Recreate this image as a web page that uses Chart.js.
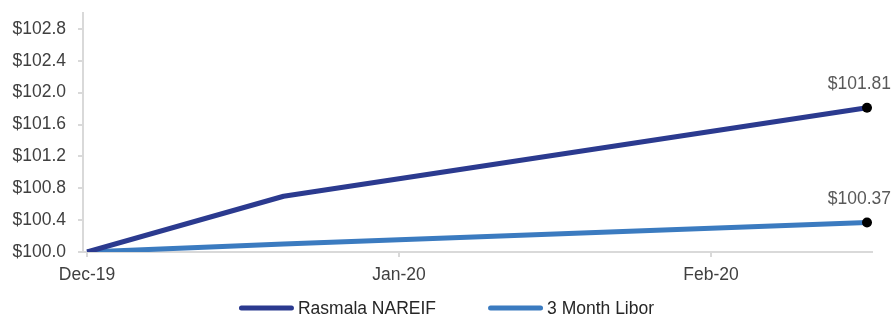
<!DOCTYPE html>
<html>
<head>
<meta charset="utf-8">
<script src="https://cdn.jsdelivr.net/npm/chart.js@4/dist/chart.umd.min.js"></script>
<style>
  html, body { margin: 0; padding: 0; background: #ffffff; }
  #wrap { width: 893px; height: 320px; position: relative; }
</style>
</head>
<body>
<div id="wrap"><canvas id="c"></canvas></div>
<script>
// Month labels on the horizontal axis (positions 0, 1, 2 in months from Dec-19)
const monthLabels = ['Dec-19', 'Jan-20', 'Feb-20'];
// Observation positions, in months after Dec-19
const obsMonths = [0, 0.63, 2.5];
// Growth of $100
const rasmalaNareif = [100.0, 100.70, 101.81];
const libor3m = [100.0, 100.10, 100.37];
const seriesNames = ['Rasmala NAREIF', '3 Month Libor'];
const seriesColors = ['#2b3a8f', '#3b7bc0'];

const FONT = "'Liberation Sans', Arial, sans-serif";
const FS = 17.5;

function toPoints(vals) {
  return vals.map((v, i) => ({ x: obsMonths[i], y: v }));
}

// Dollar label above the last point of each line
const endLabels = {
  id: 'endLabels',
  afterDatasetsDraw(chart) {
    const ctx = chart.ctx;
    ctx.save();
    ctx.font = FS + 'px ' + FONT;
    ctx.fillStyle = '#595959';
    ctx.textBaseline = 'alphabetic';
    ctx.textAlign = 'left';
    chart.data.datasets.forEach((ds, di) => {
      const meta = chart.getDatasetMeta(di);
      const last = meta.data[meta.data.length - 1];
      const val = ds.data[ds.data.length - 1].y;
      const txt = '$' + val.toFixed(2);
      const w = ctx.measureText(txt).width;
      let left = last.x - w / 2;
      if (left + w > chart.width - 2) left = chart.width - 2 - w;
      ctx.fillText(txt, left, last.y - 19);
    });
    ctx.restore();
  }
};

// Line-swatch legend centred under the plot
const lineLegend = {
  id: 'lineLegend',
  afterDraw(chart) {
    const ctx = chart.ctx;
    ctx.save();
    ctx.font = FS + 'px ' + FONT;
    const sw = 55, gapTxt = 4, gapItem = 52;
    const items = chart.data.datasets.map(ds => ({
      text: ds.label, color: ds.borderColor, w: sw + gapTxt + ctx.measureText(ds.label).width
    }));
    const total = items.reduce((a, it) => a + it.w, 0) + gapItem * (items.length - 1);
    let x = (chart.width - total) / 2;
    const y = 308;
    items.forEach(it => {
      ctx.strokeStyle = it.color;
      ctx.lineWidth = 5;
      ctx.lineCap = 'round';
      ctx.beginPath();
      ctx.moveTo(x + 2.5, y);
      ctx.lineTo(x + sw - 2.5, y);
      ctx.stroke();
      ctx.fillStyle = '#262626';
      ctx.textBaseline = 'middle';
      ctx.textAlign = 'left';
      ctx.fillText(it.text, x + sw + gapTxt, y + 1);
      x += it.w + gapItem;
    });
    ctx.restore();
  }
};

const lastOnly = (c) => (c.dataIndex === obsMonths.length - 1 ? 5 : 0);

new Chart(document.getElementById('c'), {
  type: 'line',
  data: {
    datasets: [
      {
        label: seriesNames[0], data: toPoints(rasmalaNareif),
        borderColor: seriesColors[0], backgroundColor: seriesColors[0],
        borderWidth: 5, tension: 0, borderJoinStyle: 'round',
        pointRadius: lastOnly, pointBackgroundColor: '#000', pointBorderWidth: 0,
        pointHoverRadius: lastOnly
      },
      {
        label: seriesNames[1], data: toPoints(libor3m),
        borderColor: seriesColors[1], backgroundColor: seriesColors[1],
        borderWidth: 5, tension: 0, borderJoinStyle: 'round',
        pointRadius: lastOnly, pointBackgroundColor: '#000', pointBorderWidth: 0,
        pointHoverRadius: lastOnly
      }
    ]
  },
  options: {
    responsive: true,
    maintainAspectRatio: false,
    animation: false,
    layout: { padding: { left: 0, right: 21, top: 13, bottom: 31 } },
    plugins: {
      legend: { display: false },
      tooltip: { enabled: false }
    },
    scales: {
      x: {
        type: 'linear',
        min: -0.013,
        max: 2.516,
        afterBuildTicks: (s) => { s.ticks = monthLabels.map((_, i) => ({ value: i })); },
        ticks: {
          callback: (v) => monthLabels[v] || '',
          color: '#404040',
          font: { family: FONT, size: FS },
          padding: 8,
          maxRotation: 0
        },
        grid: { drawOnChartArea: false, drawTicks: true, tickLength: 5, color: '#d9d9d9', lineWidth: 2 },
        border: { display: true, color: '#d9d9d9', width: 2 },
        afterFit: (s) => { s.height = 37; s.paddingLeft = 0; s.paddingRight = 0; }
      },
      y: {
        min: 100,
        max: 103,
        afterBuildTicks: (s) => {
          const t = [];
          for (let v = 100; v <= 102.8 + 1e-9; v += 0.4) t.push({ value: Math.round(v * 10) / 10 });
          s.ticks = t;
        },
        ticks: {
          callback: (v) => '$' + Number(v).toFixed(1),
          color: '#404040',
          font: { family: FONT, size: FS },
          padding: 12
        },
        grid: { drawOnChartArea: false, drawTicks: true, tickLength: 5, color: '#d9d9d9', lineWidth: 2 },
        border: { display: true, color: '#d9d9d9', width: 2 },
        afterFit: (s) => { s.width = 83; s.paddingTop = 0; s.paddingBottom = 0; }
      }
    }
  },
  plugins: [endLabels, lineLegend]
});
</script>
</body>
</html>
